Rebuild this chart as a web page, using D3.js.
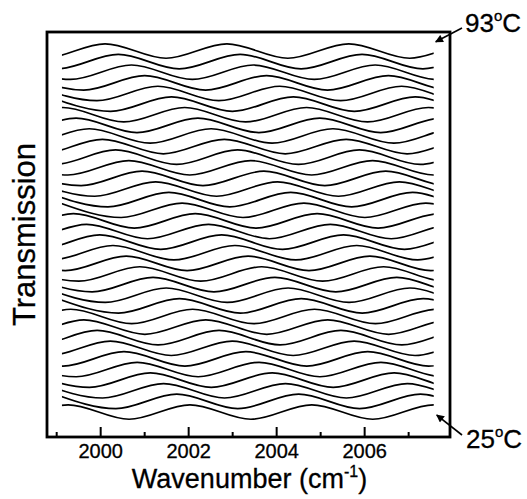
<!DOCTYPE html>
<html>
<head>
<meta charset="utf-8">
<script src="https://cdn.jsdelivr.net/npm/d3@7"></script>
<style>
body { margin: 0; background: #fff; }
text { font-family: Arial, "Liberation Sans", sans-serif; fill: #000; }
</style>
</head>
<body>
<svg id="chart" width="527" height="499"></svg>
<script>
// spectra temperatures, bottom curve first (deg C)
var temps = [25,27,29,31,33,35,37,39,41,43,45,47,49,51,53,55,57,59,61,
             63,65,67,69,71,73,75,77,79,81,83,85,87,89,91,93];
// wavenumber of the first fringe maximum of each spectrum (cm-1)
var firstPeak = [1999.26,2001.73,2001.43,2001.13,2000.83,2000.53,2000.22,1999.92,1999.62,1999.32,
                 2001.79,2001.49,2001.19,2000.89,2000.58,2000.28,1999.98,1999.68,1999.38,2001.85,
                 2001.55,2001.25,2000.94,2000.64,2000.34,2000.04,1999.74,1999.44,1999.14,2001.61,
                 2001.30,2001.00,2000.70,2000.40,2000.10];
var fringePeriod = 2.77;   // cm-1 between neighbouring maxima
var fringeHalf = 0.68;     // half peak-to-valley height, in stacking-offset units
var wnStart = 1999.12, wnEnd = 2007.57;
var majorTicks = [2000, 2002, 2004, 2006];
var minorTicks = [1999, 2001, 2003, 2005, 2007];

var W = 527, H = 499;
var pL = 47, pR = 450, pT = 32, pB = 437;

var svg = d3.select("#chart");

var x = d3.scaleLinear().domain([1998.78, 2007.94]).range([pL, pR]);
var y = d3.scaleLinear().domain([-2.354, 35.79]).range([pB, pT]);

var defs = svg.append("defs");
// clip the fringes to the measured range
defs.append("clipPath").attr("id", "dataClip")
    .append("rect")
    .attr("x", x(wnStart)).attr("y", 0)
    .attr("width", x(wnEnd) - x(wnStart)).attr("height", H);

defs.append("marker")
    .attr("id", "arrowHead")
    .attr("viewBox", "0 0 10 10")
    .attr("refX", 9).attr("refY", 5)
    .attr("markerWidth", 6).attr("markerHeight", 5)
    .attr("markerUnits", "strokeWidth")
    .attr("orient", "auto")
    .append("path").attr("d", "M0,0 L10,5 L0,10 z").attr("fill", "#000");

// each spectrum as its maxima and minima, joined smoothly
function extrema(i) {
    var pts = [];
    for (var k = -1; k < 5; k++) {
        var p = firstPeak[i] + k * fringePeriod;
        pts.push([p, i + fringeHalf]);
        pts.push([p + fringePeriod / 2, i - fringeHalf]);
    }
    return pts;
}

var line = d3.line()
    .x(function(d) { return x(d[0]); })
    .y(function(d) { return y(d[1]); })
    .curve(d3.curveMonotoneX);

svg.append("g").attr("clip-path", "url(#dataClip)")
    .selectAll("path")
    .data(temps)
    .enter().append("path")
    .attr("d", function(t, i) { return line(extrema(i)); })
    .attr("fill", "none")
    .attr("stroke", "#000")
    .attr("stroke-width", 1.7);

// frame
svg.append("rect")
    .attr("x", pL).attr("y", pT)
    .attr("width", pR - pL).attr("height", pB - pT)
    .attr("fill", "none").attr("stroke", "#000").attr("stroke-width", 2.8);

// inward ticks on the bottom axis
svg.append("g").selectAll("line").data(majorTicks).enter().append("line")
    .attr("x1", function(d) { return x(d); }).attr("x2", function(d) { return x(d); })
    .attr("y1", pB).attr("y2", pB - 10)
    .attr("stroke", "#000").attr("stroke-width", 2);
svg.append("g").selectAll("line").data(minorTicks).enter().append("line")
    .attr("x1", function(d) { return x(d); }).attr("x2", function(d) { return x(d); })
    .attr("y1", pB).attr("y2", pB - 5)
    .attr("stroke", "#000").attr("stroke-width", 2);

svg.append("g").selectAll("text").data(majorTicks).enter().append("text")
    .attr("x", function(d) { return x(d); })
    .attr("y", pB + 21)
    .attr("text-anchor", "middle")
    .attr("font-size", 20)
    .attr("stroke", "#000").attr("stroke-width", 0.3)
    .text(function(d) { return d; });

// axis titles
var xt = svg.append("text")
    .attr("x", (pL + pR) / 2 + 1).attr("y", 488)
    .attr("text-anchor", "middle")
    .attr("font-size", 27)
    .attr("stroke", "#000").attr("stroke-width", 0.3);
xt.append("tspan").text("Wavenumber (cm");
xt.append("tspan").attr("font-size", 16).attr("dy", -11).text("-1");
xt.append("tspan").attr("dy", 11).text(")");

svg.append("text")
    .attr("transform", "translate(35," + ((pT + pB) / 2) + ") rotate(-90)")
    .attr("text-anchor", "middle")
    .attr("font-size", 31)
    .attr("stroke", "#000").attr("stroke-width", 0.3)
    .text("Transmission");

// temperature labels with arrows to the end of the first and last spectra
function tempLabel(t, tx, ty, x1, y1, ax, ay) {
    svg.append("line")
        .attr("x1", x1).attr("y1", y1)
        .attr("x2", ax).attr("y2", ay)
        .attr("stroke", "#000").attr("stroke-width", 1.6)
        .attr("marker-end", "url(#arrowHead)");
    var lab = svg.append("text").attr("x", tx).attr("y", ty).attr("font-size", 26)
        .attr("stroke", "#000").attr("stroke-width", 0.3);
    lab.append("tspan").text(t);
    lab.append("tspan").attr("font-size", 15).attr("dy", -11).text("o");
    lab.append("tspan").attr("dy", 11).text("C");
}
var last = temps.length - 1;
tempLabel(temps[last], 465, 32, 462, 28, x(wnEnd) + 2, y(last + fringeHalf) - 2);
tempLabel(temps[0], 466, 448, 462, 435, x(wnEnd) + 3, y(0) + 3);
</script>
</body>
</html>
